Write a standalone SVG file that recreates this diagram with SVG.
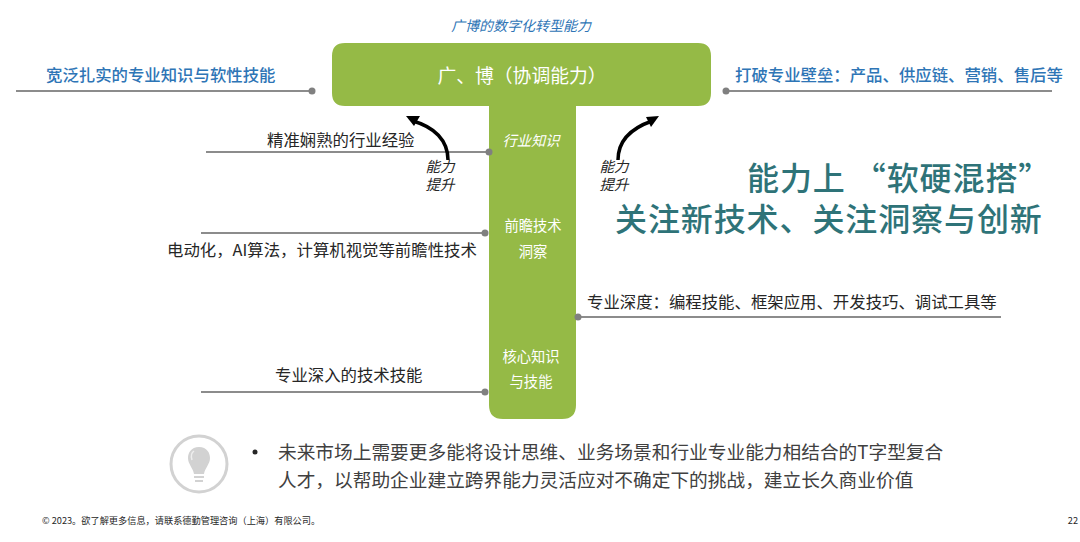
<svg xmlns="http://www.w3.org/2000/svg" width="1080" height="542" viewBox="0 0 1080 542">
<defs>
<style>
text{font-family:"Noto Sans CJK SC","Liberation Sans",sans-serif}
.ln{stroke:#8c8c8c;stroke-width:2;fill:none}
.dot{fill:#808080}
.arr{fill:none;stroke:#000;stroke-width:3.5}
.l{font-size:16.4px;fill:#262626}
.b{font-size:16.4px;fill:#2e75b6;font-weight:500}
.w{font-size:14.3px;fill:#fff;text-anchor:middle}
.i{font-size:14.5px;fill:#262626;font-style:italic;text-anchor:middle}
.t{font-size:32px;fill:#2e7378;font-weight:500;letter-spacing:.9px}
.s{font-size:18.7px;fill:#404040}
.f{font-size:9.2px;fill:#262626}
</style>
</defs>
<rect width="1080" height="542" fill="#fff"/>
<g id="t-shape">
<path d="M345 43H698Q711 43 711 56V93Q711 106 698 106H576V405Q576 419 562 419H503Q489 419 489 405V106H345Q332 106 332 93V56Q332 43 345 43Z" fill="#95ba46"/>
<text x="522" y="83" font-size="18.8" fill="#fff" text-anchor="middle">广、博（协调能力）</text>
<text class="w" x="531" y="146" font-style="italic">行业知识</text>
<text class="w" x="533" y="231">前瞻技术</text>
<text class="w" x="533" y="257">洞察</text>
<text class="w" x="531" y="362">核心知识</text>
<text class="w" x="531" y="387">与技能</text>
</g>
<g id="connectors">
<path class="ln" d="M16 91H312"/><circle class="dot" cx="312" cy="91" r="3.5"/>
<path class="ln" d="M726 91H1052"/><circle class="dot" cx="726" cy="91" r="3.5"/>
<path class="ln" d="M206 152H489"/><circle class="dot" cx="489" cy="152" r="3.5"/>
<path class="ln" d="M201 233H485"/><circle class="dot" cx="485" cy="233" r="3.5"/>
<path class="ln" d="M578 317H1001"/><circle class="dot" cx="578" cy="317" r="3.5"/>
<path class="ln" d="M201 392H485"/><circle class="dot" cx="485" cy="392" r="3.5"/>
<path class="arr" d="M448 160C448 140 434 127 413 121"/>
<path d="M406 116L420 116L414 126Z" fill="#000"/>
<path class="arr" d="M618 160C618 140 632 128 652 121"/>
<path d="M659 116L646 117L651 127Z" fill="#000"/>
</g>
<g id="labels">
<text x="521" y="31" font-size="14" fill="#2e75b6" font-style="italic" text-anchor="middle">广博的数字化转型能力</text>
<text class="b" x="46" y="81">宽泛扎实的专业知识与软性技能</text>
<text class="b" x="735" y="81">打破专业壁垒：产品、供应链、营销、售后等</text>
<text class="l" x="267" y="146">精准娴熟的行业经验</text>
<text class="l" x="167" y="256">电动化，AI算法，计算机视觉等前瞻性技术</text>
<text class="l" x="587" y="308">专业深度：编程技能、框架应用、开发技巧、调试工具等</text>
<text class="l" x="275" y="381">专业深入的技术技能</text>
<text class="i" x="440" y="172">能力</text>
<text class="i" x="440" y="190">提升</text>
<text class="i" x="614" y="172">能力</text>
<text class="i" x="614" y="190">提升</text>
<text class="t" x="747" y="190">能力上 “软硬混搭”</text>
<text class="t" x="615" y="231">关注新技术、关注洞察与创新</text>
</g>
<g id="bulb">
<circle cx="199" cy="464" r="28" fill="none" stroke="#d2d2d2" stroke-width="3"/>
<path d="M199 447C191 447 188 453 188 458C188 464 193 468 194 474H204C205 468 210 464 210 458C210 453 207 447 199 447Z" fill="#d2d2d2"/>
<path d="M194 451C191 453 191 457 192 460" fill="none" stroke="#eee" stroke-width="1.5"/>
<path d="M194 477H204M195 481H203" stroke="#d2d2d2" stroke-width="2"/>
</g>
<g id="note">
<circle cx="255" cy="452" r="2.5" fill="#262626"/>
<text class="s" x="278" y="459">未来市场上需要更多能将设计思维、业务场景和行业专业能力相结合的T字型复合</text>
<text class="s" x="278" y="487">人才，以帮助企业建立跨界能力灵活应对不确定下的挑战，建立长久商业价值</text>
</g>
<g id="footer">
<text class="f" x="42" y="524">© 2023。欲了解更多信息，请联系德勤管理咨询（上海）有限公司。</text>
<text class="f" x="1078" y="524" text-anchor="end">22</text>
</g>
</svg>
